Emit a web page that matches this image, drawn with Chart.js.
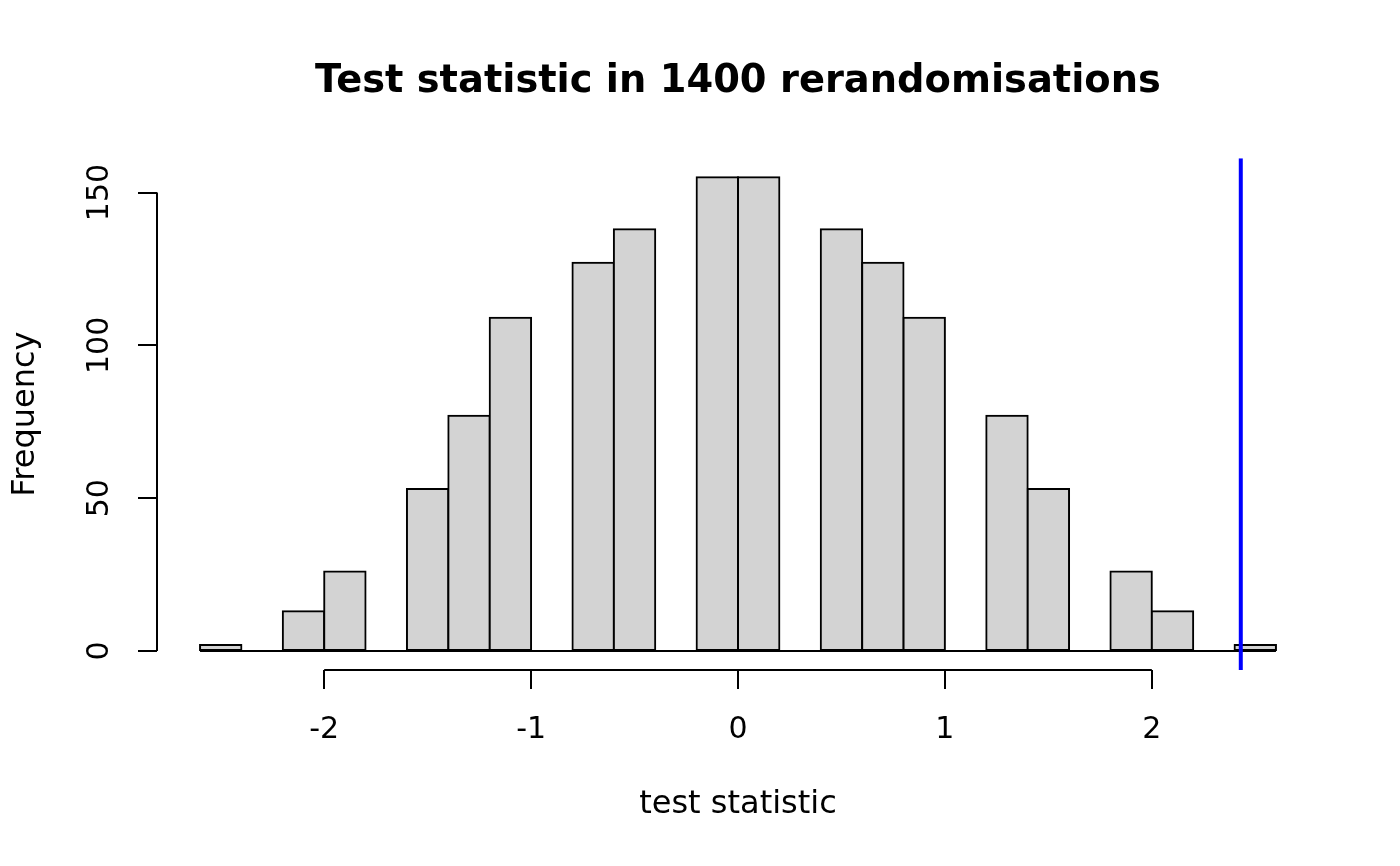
<!DOCTYPE html>
<html>
<head>
<meta charset="utf-8">
<script src="https://cdn.jsdelivr.net/npm/chart.js@4.4.1/dist/chart.umd.min.js"></script>
<style>
  html, body { margin: 0; padding: 0; background: #fff; }
  canvas { display: block; }
</style>
</head>
<body>
<canvas id="hist" width="1400" height="866"></canvas>
<script>
// bin centres (bins are 0.2 wide) and counts
const binCentres = [-2.5, -2.3, -2.1, -1.9, -1.7, -1.5, -1.3, -1.1, -0.9, -0.7, -0.5, -0.3, -0.1,
                    0.1, 0.3, 0.5, 0.7, 0.9, 1.1, 1.3, 1.5, 1.7, 1.9, 2.1, 2.3, 2.5];
const binCounts = [2, 0, 13, 26, 0, 53, 77, 109, 0, 127, 138, 0, 155,
                   155, 0, 138, 127, 109, 0, 77, 53, 0, 26, 13, 0, 2];
const histRange = [-2.6, 2.6];
const xTickValues = [-2, -1, 0, 1, 2];
const yTickValues = [0, 50, 100, 150];
const observedStat = 2.43;

// plot limits, R style (data range padded by 4%)
const xLimits = [-2.808, 2.808];
const yLimits = [-6.2, 161.2];

Chart.defaults.font.family = "'DejaVu Sans', sans-serif";
Chart.defaults.color = '#000';

// R draws the axis line only between the first and last tick
const rAxisLines = {
    id: 'rAxisLines',
    afterDraw(chart) {
        const { ctx, chartArea, scales: { x, y } } = chart;
        ctx.save();
        ctx.strokeStyle = '#000';
        ctx.lineWidth = 2;
        ctx.beginPath();
        ctx.moveTo(x.getPixelForValue(xTickValues[0]), chartArea.bottom);
        ctx.lineTo(x.getPixelForValue(xTickValues[xTickValues.length - 1]), chartArea.bottom);
        ctx.moveTo(chartArea.left, y.getPixelForValue(yTickValues[0]));
        ctx.lineTo(chartArea.left, y.getPixelForValue(yTickValues[yTickValues.length - 1]));
        ctx.stroke();
        ctx.restore();
    }
};

new Chart(document.getElementById('hist'), {
    type: 'bar',
    data: {
        datasets: [
            {
                type: 'line',
                data: [{ x: observedStat, y: yLimits[0] }, { x: observedStat, y: yLimits[1] }],
                borderColor: '#0000FF',
                borderWidth: 4,
                pointRadius: 0
            },
            {
                type: 'line',
                data: histRange.map(v => ({ x: v, y: 0 })),
                borderColor: '#000',
                borderWidth: 2,
                pointRadius: 0
            },
            {
                data: binCentres.map((c, i) => ({ x: c, y: binCounts[i] })),
                backgroundColor: '#D3D3D3',
                borderColor: '#000',
                borderWidth: 2,
                borderSkipped: false,
                inflateAmount: 1,
                barPercentage: 1,
                categoryPercentage: 1
            }
        ]
    },
    options: {
        responsive: false,
        animation: false,
        devicePixelRatio: 1,
        layout: { padding: { left: 0, right: 81, top: 0, bottom: 0 } },
        plugins: {
            legend: { display: false },
            tooltip: { enabled: false },
            title: {
                display: true,
                fullSize: false,
                text: 'Test statistic in 1400 rerandomisations',
                font: { size: 38.4, weight: 'bold' },
                color: '#000',
                padding: { top: 59, bottom: 53.2 }
            }
        },
        scales: {
            x: {
                type: 'linear',
                min: xLimits[0],
                max: xLimits[1],
                offset: false,
                afterFit: s => { s.height = 196; },
                afterBuildTicks: s => { s.ticks = xTickValues.map(v => ({ value: v })); },
                grid: { offset: false, drawOnChartArea: false, drawTicks: true, tickLength: 19, color: '#000', lineWidth: 2 },
                border: { display: false },
                ticks: { font: { size: 30 }, padding: 23, maxRotation: 0, autoSkip: false },
                title: { display: true, text: 'test statistic', font: { size: 32 }, padding: { top: 0, bottom: 41.8 } }
            },
            y: {
                type: 'linear',
                min: yLimits[0],
                max: yLimits[1],
                afterFit: s => { s.width = 157; },
                afterBuildTicks: s => { s.ticks = yTickValues.map(v => ({ value: v })); },
                grid: { drawOnChartArea: false, drawTicks: true, tickLength: 19, color: '#000', lineWidth: 2 },
                border: { display: false },
                ticks: { font: { size: 30 }, padding: 9.5, minRotation: 90, maxRotation: 90, crossAlign: 'center', autoSkip: false },
                title: { display: true, text: 'Frequency', font: { size: 32 }, padding: { top: 6.8, bottom: 0 } }
            }
        }
    },
    plugins: [rAxisLines]
});
</script>
</body>
</html>
